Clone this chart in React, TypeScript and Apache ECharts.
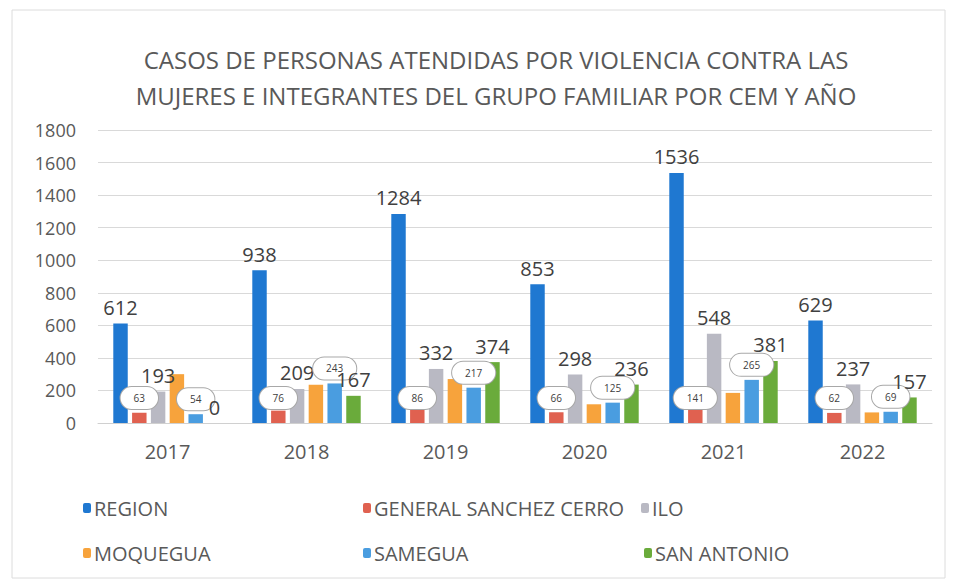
import React, { useEffect, useRef } from "react";
import * as echarts from "echarts";

const years = ["2017", "2018", "2019", "2020", "2021", "2022"];
const region = [612, 938, 1284, 853, 1536, 629];
const generalSanchezCerro = [63, 76, 86, 66, 141, 62];
const ilo = [193, 209, 332, 298, 548, 237];
const moquegua = [300, 235, 270, 115, 185, 65];
const samegua = [54, 243, 217, 125, 265, 69];
const sanAntonio = [0, 167, 374, 236, 381, 157];

const titleLines = [
  "CASOS DE PERSONAS ATENDIDAS POR VIOLENCIA CONTRA LAS",
  "MUJERES E INTEGRANTES DEL GRUPO FAMILIAR POR CEM Y AÑO",
];

const FONT = "'Open Sans', 'Noto Sans', sans-serif";

export default function App() {
  const ref = useRef<HTMLDivElement>(null);
  useEffect(() => {
    if (!ref.current) return;
    const chart = echarts.init(ref.current, undefined, { renderer: "svg" });
    const topLabel = {
      show: true,
      position: "top",
      distance: 6,
      fontSize: 20,
      color: "#404040",
      fontFamily: FONT,
    };
    const bubble = {
      show: true,
      fontSize: 10,
      color: "#404040",
      fontFamily: FONT,
      backgroundColor: "#ffffff",
      borderColor: "#a8a8a8",
      borderWidth: 1,
      borderRadius: 14,
      padding: [6, 13],
    };
    const mk = (name: string, data: number[], color: string, label: any) => ({
      name,
      type: "bar",
      data,
      barGap: "30%",
      barCategoryGap: "22%",
      itemStyle: { color },
      label,
    });
    const legendPos = [
      { name: "REGION", left: 78, top: 493 },
      { name: "GENERAL SANCHEZ CERRO", left: 358, top: 493 },
      { name: "ILO", left: 636, top: 493 },
      { name: "MOQUEGUA", left: 78, top: 538 },
      { name: "SAMEGUA", left: 358, top: 538 },
      { name: "SAN ANTONIO", left: 639, top: 538 },
    ];
    chart.setOption({
      animation: false,
      backgroundColor: "#ffffff",
      textStyle: { fontFamily: FONT },
      title: {
        text: titleLines.join("\n"),
        left: 491,
        textAlign: "center",
        top: 36,
        textStyle: {
          fontSize: 24,
          fontWeight: "normal",
          color: "#595959",
          lineHeight: 36,
          fontFamily: FONT,
        },
      },
      legend: legendPos.map((l) => ({
        data: [l.name],
        left: l.left,
        top: l.top,
        itemWidth: 8,
        itemHeight: 10,
        itemGap: 0,
        textStyle: { fontSize: 20, color: "#595959", fontFamily: FONT, padding: [0, 0, 0, -2] },
      })),
      grid: { left: 98, right: 24, top: 130, bottom: 162 },
      xAxis: {
        type: "category",
        data: years,
        axisLine: { lineStyle: { color: "#d0d0d0" } },
        axisTick: { show: false },
        axisLabel: { fontSize: 20, color: "#595959", margin: 18, fontFamily: FONT },
      },
      yAxis: {
        type: "value",
        min: 0,
        max: 1800,
        interval: 200,
        axisLine: { show: false },
        axisTick: { show: false },
        axisLabel: {
          fontSize: 18,
          color: "#595959",
          margin: 22,
          fontFamily: FONT,
          formatter: (v: number) => String(v),
        },
        splitLine: { lineStyle: { color: "#d9d9d9" } },
      },
      graphic: [
        {
          type: "rect",
          shape: { x: 12, y: 10, width: 933, height: 568 },
          style: { fill: "none", stroke: "#dcdcdc", lineWidth: 1 },
          silent: true,
        },
      ],
      series: [
        mk("REGION", region, "#1f78d1", topLabel),
        mk("GENERAL SANCHEZ CERRO", generalSanchezCerro, "#e06150", {
          ...bubble,
          position: "insideBottom",
          distance: 14,
        }),
        mk("ILO", ilo, "#b9b9c3", topLabel),
        mk("MOQUEGUA", moquegua, "#f7a33c", { show: false }),
        mk("SAMEGUA", samegua, "#4a9de0", { ...bubble, position: "top", distance: 4 }),
        mk("SAN ANTONIO", sanAntonio, "#6aab3b", topLabel),
      ],
    });
    return () => chart.dispose();
  }, []);
  return (
    <div
      ref={ref}
      style={{ position: "fixed", left: 0, top: 0, width: 956, height: 585 }}
    />
  );
}
